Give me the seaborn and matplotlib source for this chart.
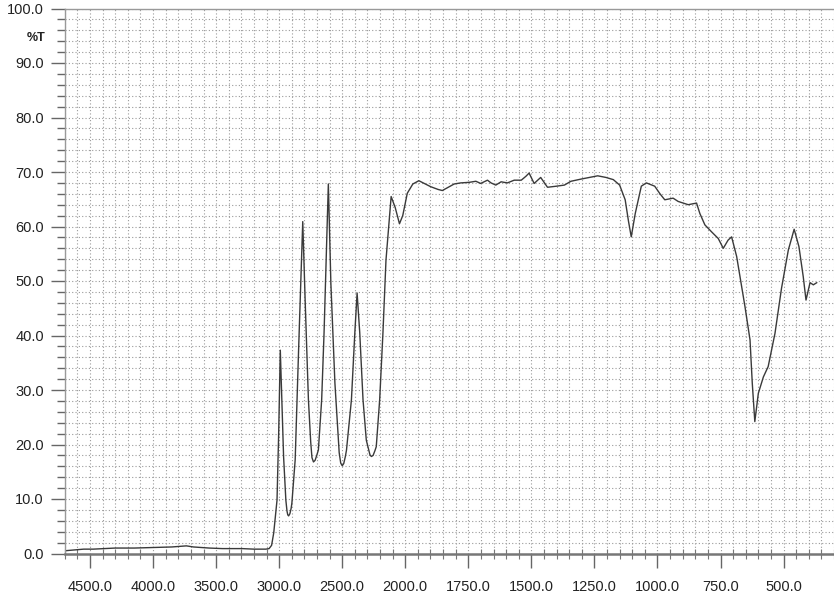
import numpy as np
import pandas as pd
import matplotlib
matplotlib.use("Agg")
import matplotlib.pyplot as plt
import seaborn as sns
from matplotlib.ticker import FixedLocator, FuncFormatter

# IR spectrum (wavenumber cm-1, %T)
wavenumber = [4700, 4650, 4550, 4475, 4300, 4150, 4000, 3850, 3736, 3680, 3555, 3450, 3295, 3200, 3106, 3080,
              3060, 3043, 3017, 3004, 2991, 2965, 2947, 2938, 2932, 2925, 2915, 2905, 2899, 2873, 2846, 2813,
              2794, 2768, 2750, 2740, 2728, 2715, 2702, 2689, 2663, 2644, 2610, 2590, 2558, 2524, 2512, 2500,
              2488, 2475, 2466, 2427, 2400, 2382, 2361, 2335, 2309, 2292, 2280, 2269, 2255, 2240, 2230,
              2203, 2177, 2153,
              2112, 2080, 2046, 2020, 1992, 1970, 1946, 1920, 1899, 1870, 1853, 1806,
              1780, 1747, 1720, 1701, 1674, 1660, 1641, 1620, 1595, 1568, 1540, 1522,
              1509, 1489, 1463, 1436, 1400, 1369, 1343, 1303, 1270, 1237, 1204, 1175,
              1150, 1128, 1115, 1104, 1088, 1064, 1044, 1011, 990, 971, 938, 918,
              878, 845, 832, 812, 785, 759, 739, 720, 706, 686, 653, 633, 624, 614,
              600, 580, 561, 534, 508, 481, 458, 439, 422, 411, 395, 382, 368]
transmittance = [0.5, 0.6, 0.8, 0.8, 1.0, 1.0, 1.1, 1.2, 1.4, 1.2, 1.0, 0.9, 0.9, 0.8, 0.8, 0.9,
                 1.5, 3.8, 9.8, 22.0, 37.3, 17.8, 9.8, 7.8, 7.1, 6.9, 7.3, 8.3, 9.3, 17.2, 37.3, 60.9,
                 46.5, 28.2, 20.5, 17.6, 16.8, 17.1, 18.0, 19.0, 28.2, 40.5, 67.8, 49.6, 31.3, 18.5, 16.6, 16.1,
                 16.5, 17.8, 19.0, 28.2, 40.5, 47.8, 40.5, 28.2, 20.8, 19.2, 18.1, 17.8, 18.0, 18.9, 19.6,
                 28.2, 40.5, 53.8,
                 65.5, 63.5, 60.5, 62.0, 66.1, 67.8, 68.4, 67.8, 67.3, 66.8, 66.6, 67.8,
                 68.0, 68.1, 68.3, 67.9, 68.5, 68.0, 67.6, 68.2, 68.0, 68.5, 68.5, 69.2,
                 69.8, 67.9, 69.0, 67.2, 67.4, 67.6, 68.3, 68.7, 69.0, 69.3, 69.0, 68.6,
                 67.6, 64.9, 61.0, 58.1, 62.4, 67.4, 68.0, 67.4, 66.0, 64.9, 65.2, 64.6,
                 64.0, 64.3, 62.4, 60.3, 59.0, 57.8, 56.0, 57.5, 58.1, 54.5, 45.3, 39.2, 31.2, 24.2,
                 29.4, 32.4, 34.3, 40.4, 48.7, 55.7, 59.5, 56.3, 50.8, 46.5, 49.7, 49.3, 49.7]

x_major = [4500, 4000, 3500, 3000, 2500, 2000, 1750, 1500, 1250, 1000, 750, 500]
y_major = [0, 10, 20, 30, 40, 50, 60, 70, 80, 90, 100]

df = pd.DataFrame({"wn": wavenumber, "T": transmittance})

sns.set_theme(style="white")
plt.rcParams['font.family'] = ['Liberation Sans', 'DejaVu Sans']


# chart paper is twice as wide per cm-1 below 2000
def fwd(x):
    x = np.asarray(x, dtype=float)
    return np.where(x > 2000, 2000 + (x - 2000) / 2.0, x)


def inv(t):
    t = np.asarray(t, dtype=float)
    return np.where(t > 2000, 2000 + (t - 2000) * 2.0, t)


fig = plt.figure(figsize=(8.34, 5.98), dpi=100)
ax = fig.add_axes([64.8 / 834, 44.5 / 598, (834 - 64.8) / 834, 545 / 598])
ax.set_xscale('function', functions=(fwd, inv))

sns.lineplot(data=df, x="wn", y="T", ax=ax, color="#3a3a3a", linewidth=1.0,
             estimator=None, sort=True)

ax.set_xlim(4700, 300)
ax.set_ylim(0, 100)

x_minor = list(range(4700, 2000, -100)) + list(range(2000, 299, -50))
ax.xaxis.set_major_locator(FixedLocator(x_major))
ax.xaxis.set_minor_locator(FixedLocator(x_minor))
ax.yaxis.set_major_locator(FixedLocator(y_major))
ax.yaxis.set_minor_locator(FixedLocator(list(range(0, 101, 2))))
fmt = FuncFormatter(lambda v, p: f"{v:.1f}")
ax.xaxis.set_major_formatter(fmt)
ax.yaxis.set_major_formatter(fmt)

ax.grid(True, which='both', color='#9a9a9a', linestyle=(0, (1, 2)), linewidth=0.8)
ax.set_axisbelow(True)

ax.tick_params(axis='x', which='major', direction='out', length=10, width=1.0,
               color='#666', pad=9, labelsize=10.5, labelcolor='#222')
ax.tick_params(axis='x', which='minor', direction='inout', length=7, width=0.8, color='#777')
ax.tick_params(axis='y', which='major', direction='out', length=10, width=1.0,
               color='#666', pad=5, labelsize=10.5, labelcolor='#222')
ax.tick_params(axis='y', which='minor', direction='out', length=6, width=1.0, color='#666')
ax.tick_params(bottom=True, left=True, which='both')

ax.set_xlabel("")
ax.set_ylabel("")
for side in ['top', 'left']:
    ax.spines[side].set_color('#999')
    ax.spines[side].set_linewidth(1.0)
ax.spines['bottom'].set_color('#777')
ax.spines['bottom'].set_linewidth(1.8)
ax.spines['right'].set_visible(False)

fig.text(36 / 834, 1 - 38 / 598, "%T", fontsize=9, fontweight='bold', color='#222',
         ha='center', va='center')

fig.savefig("out.png", dpi=100)
